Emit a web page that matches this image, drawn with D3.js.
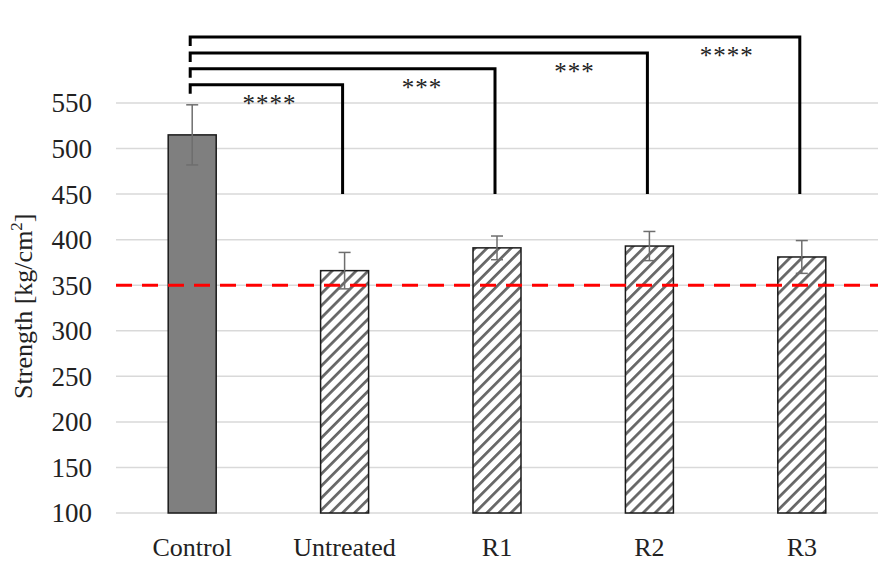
<!DOCTYPE html>
<html>
<head>
<meta charset="utf-8">
<script src="https://cdn.jsdelivr.net/npm/d3@7"></script>
<style>
  body { margin: 0; background: #fff; }
  text { font-family: 'Liberation Serif', 'Times New Roman', Times, serif; }
</style>
</head>
<body>
<svg id="chart"></svg>
<script>
var categories = ["Control", "Untreated", "R1", "R2", "R3"];
var means = [515, 366, 391, 393, 381];
var errors = [33, 20, 13, 16, 18];
var yTicks = [100, 150, 200, 250, 300, 350, 400, 450, 500, 550];
var threshold = 350;

// significance brackets: Control vs each target
var sigTargets = ["Untreated", "R1", "R2", "R3"];
var sigLevels = [570, 587.5, 605, 622.5];
var sigLabels = ["****", "***", "***", "****"];
var sigLegBottom = 450;

var width = 883;
var height = 570;
var serif = "Liberation Serif";

var svg = d3.select("#chart")
            .attr("width", width)
            .attr("height", height)
            .attr("font-family", serif);

var x = d3.scaleBand()
          .domain(categories)
          .range([116, 878])
          .paddingInner(0.685)
          .paddingOuter(0.3425);

var y = d3.scaleLinear()
          .domain([100, 550])
          .range([513, 103]);

var data = categories.map(function(c, i)
{
  return {cat: c, mean: means[i], err: errors[i]};
});

/*hatch pattern*/
var defs = svg.append("defs");
var pat = defs.append("pattern")
              .attr("id", "hatch")
              .attr("patternUnits", "userSpaceOnUse")
              .attr("width", 8.5)
              .attr("height", 8.5)
              .attr("patternTransform", "rotate(45)");
pat.append("rect")
   .attr("width", 8.5)
   .attr("height", 8.5)
   .attr("fill", "white");
pat.append("line")
   .attr("x1", 0).attr("y1", 0)
   .attr("x2", 0).attr("y2", 8.5)
   .attr("stroke", "#666")
   .attr("stroke-width", 5.5);

/*gridlines*/
svg.append("g")
   .selectAll("line")
   .data(yTicks)
   .enter()
   .append("line")
   .attr("x1", 116)
   .attr("x2", 878)
   .attr("y1", function(d) { return y(d); })
   .attr("y2", function(d) { return y(d); })
   .attr("stroke", "#d9d9d9")
   .attr("stroke-width", 1.5);

/*y tick labels*/
svg.append("g")
   .selectAll("text")
   .data(yTicks)
   .enter()
   .append("text")
   .text(function(d) { return d; })
   .attr("x", 92)
   .attr("y", function(d) { return y(d); })
   .attr("dy", "0.35em")
   .attr("text-anchor", "end")
   .attr("font-family", serif)
   .attr("font-size", 27)
   .attr("fill", "#222");

/*y title*/
var title = svg.append("text")
   .attr("transform", "translate(32," + y(327) + ") rotate(-90)")
   .attr("text-anchor", "middle")
   .attr("font-family", serif)
   .attr("font-size", 26)
   .attr("fill", "#222");
title.append("tspan").text("Strength [kg/cm");
title.append("tspan").text("2").attr("font-size", 17).attr("dy", -10);
title.append("tspan").text("]").attr("dy", 10);

/*bars*/
svg.append("g")
   .selectAll("rect")
   .data(data)
   .enter()
   .append("rect")
   .attr("x", function(d) { return x(d.cat); })
   .attr("width", x.bandwidth())
   .attr("y", function(d) { return y(d.mean); })
   .attr("height", function(d) { return y(100) - y(d.mean); })
   .attr("fill", function(d, i) { return i == 0 ? "#7f7f7f" : "url(#hatch)"; })
   .attr("stroke", "#1a1a1a")
   .attr("stroke-width", 1.5);

/*threshold line*/
svg.append("line")
   .attr("x1", 116)
   .attr("x2", 878)
   .attr("y1", y(threshold))
   .attr("y2", y(threshold))
   .attr("stroke", "#ff0000")
   .attr("stroke-width", 3)
   .attr("stroke-dasharray", "16,10");

/*error bars*/
var eb = svg.append("g")
            .attr("stroke", "#6e6e6e")
            .attr("stroke-width", 1.5);
data.forEach(function(d)
{
  var cx = x(d.cat) + x.bandwidth() / 2;
  eb.append("line")
    .attr("x1", cx).attr("x2", cx)
    .attr("y1", y(d.mean + d.err)).attr("y2", y(d.mean - d.err));
  [d.mean + d.err, d.mean - d.err].forEach(function(v)
  {
    eb.append("line")
      .attr("x1", cx - 6).attr("x2", cx + 6)
      .attr("y1", y(v)).attr("y2", y(v));
  });
});

/*significance brackets*/
var br = svg.append("g");
var leftX = x("Control") + x.bandwidth() / 2 - 2;
sigTargets.forEach(function(t, i)
{
  var rx = x(t) + x.bandwidth() / 2 - 2;
  var ly = y(sigLevels[i]);
  br.append("path")
    .attr("d", "M" + leftX + "," + (ly + 9) + "V" + ly + "H" + rx + "V" + y(sigLegBottom))
    .attr("fill", "none")
    .attr("stroke", "#000")
    .attr("stroke-width", 3);
  br.append("text")
    .text(sigLabels[i])
    .attr("x", rx - 73)
    .attr("y", ly + 27)
    .attr("text-anchor", "middle")
    .attr("font-family", serif)
    .attr("font-size", 25)
    .attr("letter-spacing", 1)
    .attr("fill", "#222");
});

/*category labels*/
svg.append("g")
   .selectAll("text")
   .data(categories)
   .enter()
   .append("text")
   .text(function(d) { return d; })
   .attr("x", function(d) { return x(d) + x.bandwidth() / 2; })
   .attr("y", 556)
   .attr("text-anchor", "middle")
   .attr("font-family", serif)
   .attr("font-size", 26)
   .attr("fill", "#222");
</script>
</body>
</html>
